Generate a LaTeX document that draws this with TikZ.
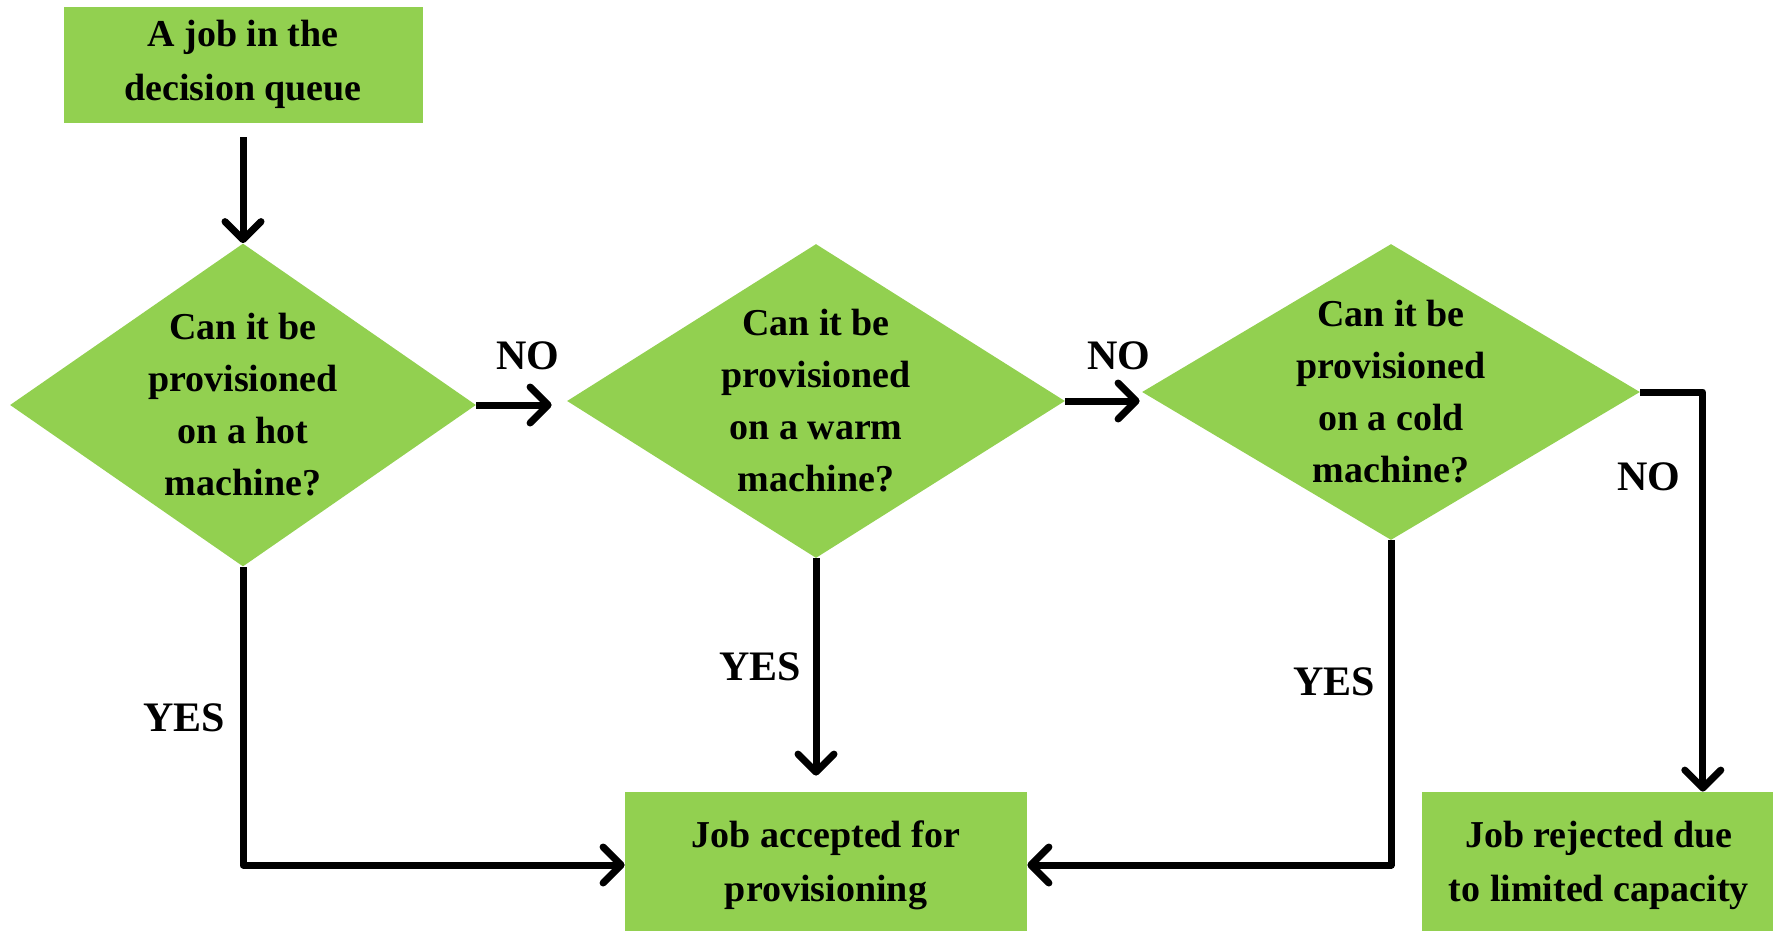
\documentclass[tikz,border=0pt]{standalone}
\usepackage{fontspec}
\setmainfont{Liberation Serif}
\usetikzlibrary{arrows.meta,positioning,shapes.geometric}
\definecolor{flowgreen}{HTML}{92D050}

\begin{document}
\begin{tikzpicture}[
  x=0.5pt,y=-0.5pt,
  box/.style={fill=flowgreen,align=center,inner sep=0pt,font=\fontsize{19}{27}\selectfont\bfseries},
  query/.style={diamond,fill=flowgreen,inner sep=0pt},
  qtext/.style={align=center,font=\fontsize{19}{26}\selectfont\bfseries},
  answer/.style={font=\fontsize{21}{24}\selectfont\bfseries},
  arrow/.style={-{Straight Barb[length=9pt,width=18pt,round]},line width=3.5pt,line join=round}
]
\useasboundingbox (0,0) rectangle (1773,931);
\node[query,minimum width=233pt,minimum height=161.5pt] (hot) at (243,405) {};
\node[query,minimum width=249pt,minimum height=157pt] (warm) at (816,401) {};
\node[query,minimum width=249pt,minimum height=148pt] (cold) at (1391,392) {};
\node[qtext] (hottxt) at (hot) {Can it be\\provisioned\\on a hot\\machine?};
\node[qtext] (warmtxt) at (warm) {Can it be\\provisioned\\on a warm\\machine?};
\node[qtext] (coldtxt) at (cold) {Can it be\\provisioned\\on a cold\\machine?};
\node[box,minimum width=179.5pt,minimum height=58pt,above=60pt of hot] (queue) {A job in the\\decision queue};
\node[box,minimum width=201pt,minimum height=73pt] (accept) at (826,865) {Job accepted for\\provisioning};
\node[box,minimum width=177pt,minimum height=73pt,right=197pt of accept] (reject) {Job rejected due\\to limited capacity};
% connectors
\draw[arrow,shorten <=7pt] (queue) -- (hot);
\draw[arrow,shorten >=7.5pt] (hot.east) -- (hot.east -| warm.west);
\draw[arrow,shorten >=1pt] (warm.east) -- (warm.east -| cold.west);
\draw[arrow] (cold.east) -| ([xshift=52pt]reject.north);
\draw[arrow] (hot.south) |- (accept.west);
\draw[arrow,shorten >=8pt] (warm.south) -- (warm.south |- accept.north);
\draw[arrow] (cold.south) |- (accept.east);
% labels
\node[answer] (no1) at (528,356) {NO};
\node[answer] (no2) at (1119,356) {NO};
\node[answer] (no3) at (1649,477) {NO};
\node[answer] (yes1) at (184,718) {YES};
\node[answer] (yes2) at (760,667) {YES};
\node[answer] (yes3) at (1334,682) {YES};
\end{tikzpicture}
\end{document}
